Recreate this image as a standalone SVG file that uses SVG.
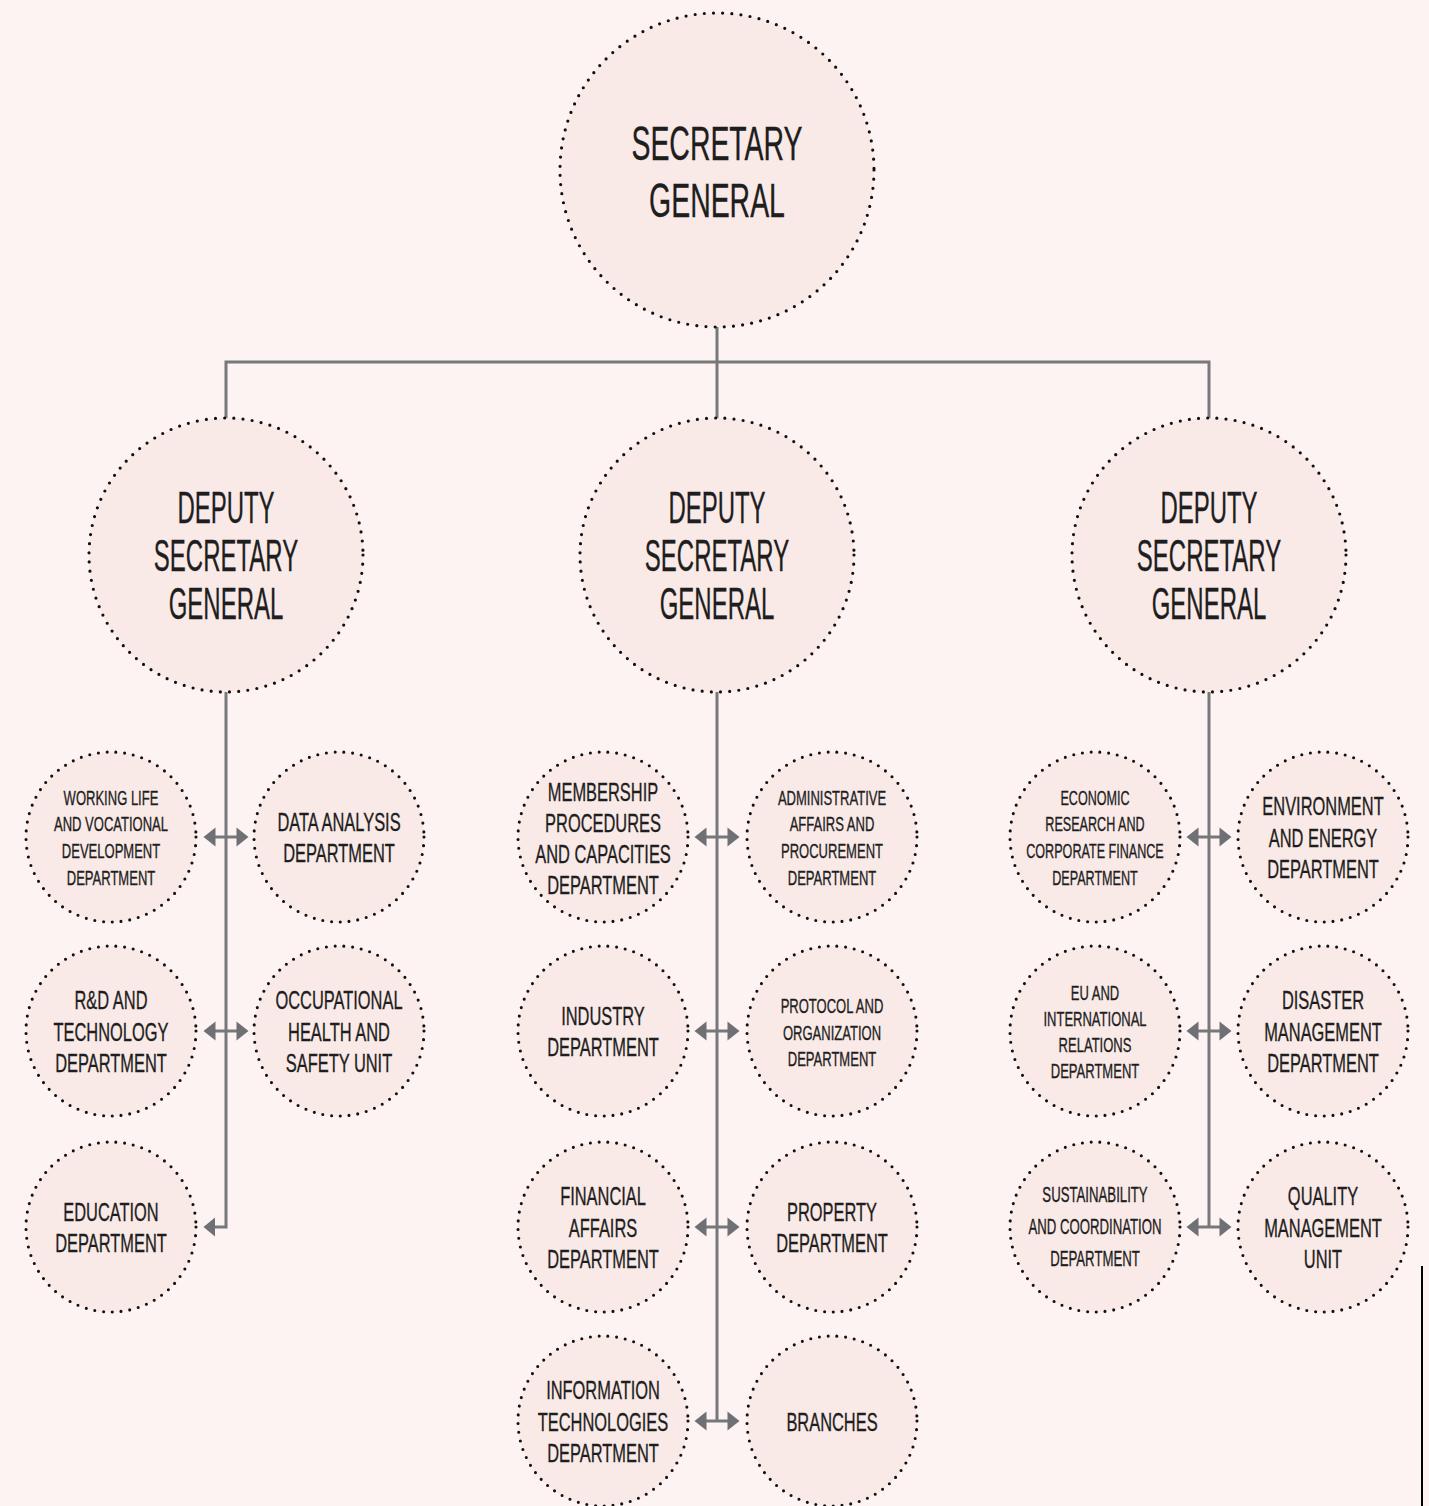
<svg xmlns="http://www.w3.org/2000/svg" width="1429" height="1506" viewBox="0 0 1429 1506">
  <defs>
    <style>
      .node circle { fill: #f9e9e7; stroke: #111111; stroke-width: 3.1; stroke-linecap: round; stroke-dasharray: 0 8.8; }
      .node.top circle { stroke-dasharray: 0 9.2; stroke-width: 3.2; }
      .node text { font-family: "Liberation Sans", Arial, sans-serif; fill: #1e1e1e; stroke: #1e1e1e; stroke-width: 0.35; text-anchor: middle; }
      .t-top { font-size: 49px; }
      .t-dep { font-size: 44px; }
      .t-lg { font-size: 26.5px; }
      .t-md { font-size: 22px; }
      .t-sm { font-size: 21px; }
      .wire { fill: none; stroke: #77787b; stroke-width: 3; }
      .head { fill: #6e7073; }
    </style>
    <!-- two-way arrow, centred on the trunk line -->
    <g id="two-way">
      <line x1="-11" y1="0" x2="11" y2="0" class="wire"/>
      <polygon class="head" points="-22.5,0 -10.5,-9.5 -10.5,9.5"/>
      <polygon class="head" points="22.5,0 10.5,-9.5 10.5,9.5"/>
    </g>
  </defs>

  <rect width="1429" height="1506" fill="#fcf3f2"/>

  <!-- connectors -->
  <g id="connectors">
    <line class="wire" x1="717" y1="327" x2="717" y2="419"/>
    <polyline class="wire" points="226,419 226,362 1209,362 1209,419"/>
    <!-- trunks under each deputy -->
    <polyline class="wire" points="226,692 226,1227 214,1227"/>
    <polygon class="head" points="203.5,1227 215,1217.5 215,1236.5"/>
    <line class="wire" x1="717" y1="692" x2="717" y2="1421"/>
    <line class="wire" x1="1209" y1="692" x2="1209" y2="1227"/>
    <use href="#two-way" x="226" y="837"/>
    <use href="#two-way" x="226" y="1031"/>
    <use href="#two-way" x="717" y="837"/>
    <use href="#two-way" x="717" y="1031"/>
    <use href="#two-way" x="717" y="1227"/>
    <use href="#two-way" x="717" y="1421"/>
    <use href="#two-way" x="1209" y="837"/>
    <use href="#two-way" x="1209" y="1031"/>
    <use href="#two-way" x="1209" y="1227"/>
  </g>

  <!-- top level -->
  <g id="secretary-general" class="node top" transform="translate(717,170)">
    <circle r="157"/>
    <text class="t-top" transform="scale(0.58,1)"><tspan x="0" y="-10">SECRETARY</tspan><tspan x="0" y="47">GENERAL</tspan></text>
  </g>

  <!-- deputies -->
  <g id="deputy-left" class="node top" transform="translate(226,555)">
    <circle r="137"/>
    <text class="t-dep" transform="scale(0.545,1)"><tspan x="0" y="-32">DEPUTY</tspan><tspan x="0" y="16">SECRETARY</tspan><tspan x="0" y="64">GENERAL</tspan></text>
  </g>
  <g id="deputy-middle" class="node top" transform="translate(717,555)">
    <circle r="137"/>
    <text class="t-dep" transform="scale(0.545,1)"><tspan x="0" y="-32">DEPUTY</tspan><tspan x="0" y="16">SECRETARY</tspan><tspan x="0" y="64">GENERAL</tspan></text>
  </g>
  <g id="deputy-right" class="node top" transform="translate(1209,555)">
    <circle r="137"/>
    <text class="t-dep" transform="scale(0.545,1)"><tspan x="0" y="-32">DEPUTY</tspan><tspan x="0" y="16">SECRETARY</tspan><tspan x="0" y="64">GENERAL</tspan></text>
  </g>

  <!-- left branch -->
  <g id="working-life" class="node" transform="translate(111,837)">
    <circle r="85"/>
    <text class="t-sm" transform="scale(0.62,1)"><tspan x="0" y="-32.5">WORKING LIFE</tspan><tspan x="0" y="-5.8">AND VOCATIONAL</tspan><tspan x="0" y="20.9">DEVELOPMENT</tspan><tspan x="0" y="47.6">DEPARTMENT</tspan></text>
  </g>
  <g id="data-analysis" class="node" transform="translate(339,837)">
    <circle r="85"/>
    <text class="t-lg" transform="scale(0.62,1)"><tspan x="0" y="-6.25">DATA ANALYSIS</tspan><tspan x="0" y="25.25">DEPARTMENT</tspan></text>
  </g>
  <g id="rnd-technology" class="node" transform="translate(111,1031)">
    <circle r="85"/>
    <text class="t-lg" transform="scale(0.62,1)"><tspan x="0" y="-22">R&amp;D AND</tspan><tspan x="0" y="9.5">TECHNOLOGY</tspan><tspan x="0" y="41">DEPARTMENT</tspan></text>
  </g>
  <g id="occupational-health" class="node" transform="translate(339,1031)">
    <circle r="85"/>
    <text class="t-lg" transform="scale(0.62,1)"><tspan x="0" y="-22">OCCUPATIONAL</tspan><tspan x="0" y="9.5">HEALTH AND</tspan><tspan x="0" y="41">SAFETY UNIT</tspan></text>
  </g>
  <g id="education" class="node" transform="translate(111,1227)">
    <circle r="85"/>
    <text class="t-lg" transform="scale(0.62,1)"><tspan x="0" y="-6.25">EDUCATION</tspan><tspan x="0" y="25.25">DEPARTMENT</tspan></text>
  </g>

  <!-- middle branch -->
  <g id="membership" class="node" transform="translate(603,837)">
    <circle r="85"/>
    <text class="t-lg" transform="scale(0.62,1)"><tspan x="0" y="-36.5">MEMBERSHIP</tspan><tspan x="0" y="-5.5">PROCEDURES</tspan><tspan x="0" y="26">AND CAPACITIES</tspan><tspan x="0" y="57.5">DEPARTMENT</tspan></text>
  </g>
  <g id="administrative-affairs" class="node" transform="translate(832,837)">
    <circle r="85"/>
    <text class="t-sm" transform="scale(0.62,1)"><tspan x="0" y="-32.5">ADMINISTRATIVE</tspan><tspan x="0" y="-5.8">AFFAIRS AND</tspan><tspan x="0" y="20.9">PROCUREMENT</tspan><tspan x="0" y="47.6">DEPARTMENT</tspan></text>
  </g>
  <g id="industry" class="node" transform="translate(603,1031)">
    <circle r="85"/>
    <text class="t-lg" transform="scale(0.62,1)"><tspan x="0" y="-6.25">INDUSTRY</tspan><tspan x="0" y="25.25">DEPARTMENT</tspan></text>
  </g>
  <g id="protocol" class="node" transform="translate(832,1031)">
    <circle r="85"/>
    <text class="t-sm" transform="scale(0.62,1)"><tspan x="0" y="-18">PROTOCOL AND</tspan><tspan x="0" y="8.7">ORGANIZATION</tspan><tspan x="0" y="35.4">DEPARTMENT</tspan></text>
  </g>
  <g id="financial-affairs" class="node" transform="translate(603,1227)">
    <circle r="85"/>
    <text class="t-lg" transform="scale(0.62,1)"><tspan x="0" y="-22">FINANCIAL</tspan><tspan x="0" y="9.5">AFFAIRS</tspan><tspan x="0" y="41">DEPARTMENT</tspan></text>
  </g>
  <g id="property" class="node" transform="translate(832,1227)">
    <circle r="85"/>
    <text class="t-lg" transform="scale(0.62,1)"><tspan x="0" y="-6.25">PROPERTY</tspan><tspan x="0" y="25.25">DEPARTMENT</tspan></text>
  </g>
  <g id="information-technologies" class="node" transform="translate(603,1421)">
    <circle r="85"/>
    <text class="t-lg" transform="scale(0.62,1)"><tspan x="0" y="-22">INFORMATION</tspan><tspan x="0" y="9.5">TECHNOLOGIES</tspan><tspan x="0" y="41">DEPARTMENT</tspan></text>
  </g>
  <g id="branches" class="node" transform="translate(832,1421)">
    <circle r="85"/>
    <text class="t-lg" transform="scale(0.62,1)"><tspan x="0" y="9.5">BRANCHES</tspan></text>
  </g>

  <!-- right branch -->
  <g id="economic-research" class="node" transform="translate(1095,837)">
    <circle r="85"/>
    <text class="t-sm" transform="scale(0.6,1)"><tspan x="0" y="-32.5">ECONOMIC</tspan><tspan x="0" y="-5.8">RESEARCH AND</tspan><tspan x="0" y="20.9">CORPORATE FINANCE</tspan><tspan x="0" y="47.6">DEPARTMENT</tspan></text>
  </g>
  <g id="environment-energy" class="node" transform="translate(1323,837)">
    <circle r="85"/>
    <text class="t-lg" transform="scale(0.62,1)"><tspan x="0" y="-22">ENVIRONMENT</tspan><tspan x="0" y="9.5">AND ENERGY</tspan><tspan x="0" y="41">DEPARTMENT</tspan></text>
  </g>
  <g id="eu-international" class="node" transform="translate(1095,1031)">
    <circle r="85"/>
    <text class="t-sm" transform="scale(0.62,1)"><tspan x="0" y="-31.5">EU AND</tspan><tspan x="0" y="-5.3">INTERNATIONAL</tspan><tspan x="0" y="21">RELATIONS</tspan><tspan x="0" y="47.3">DEPARTMENT</tspan></text>
  </g>
  <g id="disaster-management" class="node" transform="translate(1323,1031)">
    <circle r="85"/>
    <text class="t-lg" transform="scale(0.62,1)"><tspan x="0" y="-22">DISASTER</tspan><tspan x="0" y="9.5">MANAGEMENT</tspan><tspan x="0" y="41">DEPARTMENT</tspan></text>
  </g>
  <g id="sustainability" class="node" transform="translate(1095,1227)">
    <circle r="85"/>
    <text class="t-md" transform="scale(0.6,1)"><tspan x="0" y="-25">SUSTAINABILITY</tspan><tspan x="0" y="7">AND COORDINATION</tspan><tspan x="0" y="39">DEPARTMENT</tspan></text>
  </g>
  <g id="quality-management" class="node" transform="translate(1323,1227)">
    <circle r="85"/>
    <text class="t-lg" transform="scale(0.62,1)"><tspan x="0" y="-22">QUALITY</tspan><tspan x="0" y="9.5">MANAGEMENT</tspan><tspan x="0" y="41">UNIT</tspan></text>
  </g>

  <!-- thin rule at the lower right edge -->
  <line x1="1422" y1="1266" x2="1422" y2="1506" stroke="#000" stroke-width="2"/>
</svg>
